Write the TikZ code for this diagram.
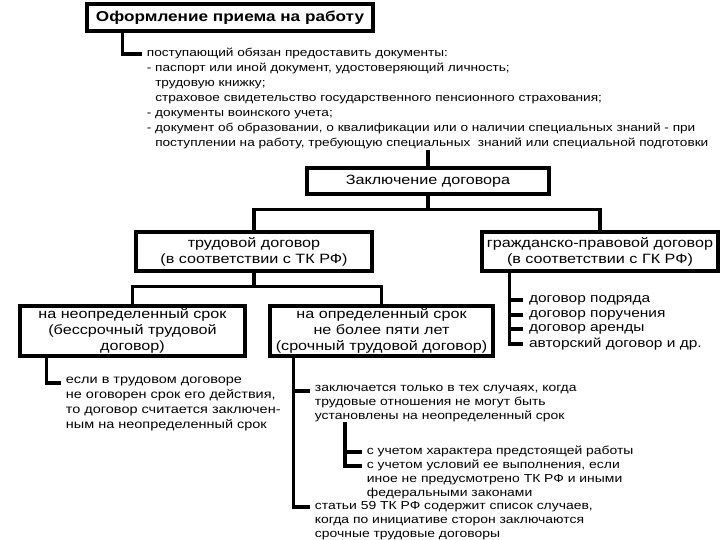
\documentclass[tikz,border=0pt]{standalone}
\usepackage{fontspec}
\setmainfont[FakeStretch=1.2]{Liberation Sans}
\usetikzlibrary{positioning,calc}

\begin{document}
\begin{tikzpicture}[x=0.03cm, y=-0.03cm,
    every node/.style={font=\fontsize{9.7}{12.8}\selectfont},
    box/.style={draw, line width=2.6pt, align=center, inner sep=0pt, font=\fontsize{11.5}{13.6}\selectfont},
    note/.style={anchor=north west, align=left, inner xsep=4pt, inner ysep=0pt},
    item/.style={anchor=west, inner xsep=5pt, inner ysep=0pt, font=\fontsize{11}{12.3}\selectfont},
    link/.style={line width=2.6pt}]
    \useasboundingbox (0,0) rectangle (720,540);

    % header and documents
    \node[box, minimum width=8.58cm, minimum height=0.81cm, font=\fontsize{12.2}{14}\selectfont\bfseries] (hire) at (230,17.5) {Оформление приема на работу};
    \node[note] (docs) at (142,48) {поступающий обязан предоставить документы:\\
        - паспорт или иной документ, удостоверяющий личность;\\
        \hphantom{- }трудовую книжку;\\
        \hphantom{- }страховое свидетельство государственного пенсионного страхования;\\
        - документы воинского учета;\\
        - документ об образовании, о квалификации или о наличии специальных знаний - при\\
        \hphantom{- }поступлении на работу, требующую специальных\ \ знаний или специальной подготовки};
    \draw[link] ($(hire.south west)+(37,0)$) |- ($(docs.north west)+(0,6)$);

    % contract
    \node[box, minimum width=7.26cm, minimum height=0.78cm] (conclude) at (428,181) {Заключение договора};
    \draw[link] (conclude.north) -- ++(0,-16);

    \node[box, minimum width=7.08cm, minimum height=1.17cm] (labour) at (254,251.5) {трудовой договор\\(в соответствии с ТК РФ)};
    \node[box, minimum width=7.08cm, minimum height=1.17cm] (civil) at (600,251.5) {гражданско-правовой договор\\(в соответствии с ГК РФ)};
    \draw[link] (conclude.south) -- ++(0,14) -| (labour.north);
    \draw[link] (conclude.south) -- ++(0,14) -| (civil.north);

    % labour contract terms
    \node[box, minimum width=6.75cm, minimum height=1.5cm] (indef) at (132.5,331) {на неопределенный срок\\(бессрочный трудовой\\договор)};
    \node[box, minimum width=6.69cm, minimum height=1.5cm] (fixed) at (381.5,331) {на определенный срок\\не более пяти лет\\(срочный трудовой договор)};
    \draw[link] (labour.south) -- ++(0,14) -| (indef.north);
    \draw[link] (labour.south) -- ++(0,14) -| (fixed.north);

    % civil contract kinds
    \node[item] (civ1) at (523,300) {договор подряда};
    \node[item] (civ2) at (523,315) {договор поручения};
    \node[item] (civ3) at (523,329) {договор аренды};
    \node[item] (civ4) at (523,344) {авторский договор и др.};
    \draw[link] ($(civil.south west)+(29,0)$) |- (civ4.west);
    \foreach \i in {1,2,3}
        \draw[link] (civ\i.west) -- ++(-12,0);

    % notes under the terms
    \node[note, font=\fontsize{10.3}{12.8}\selectfont] (indefnote) at (61,377) {если в трудовом договоре\\не оговорен срок его действия,\\то договор считается заключен-\\ным на неопределенный срок};
    \draw[link] ($(indef.south west)+(28,0)$) |- ($(indefnote.north west)+(0,6)$);

    \begin{scope}[every node/.style={font=\fontsize{9.9}{11.9}\selectfont}]
    \node[note] (fixnote) at (310,385) {заключается только в тех случаях, когда\\трудовые отношения не могут быть\\установлены на неопределенный срок};
    \node[note] (sub1) at (362,446) {с учетом характера предстоящей работы};
    \node[note] (sub2) at (362,460) {с учетом условий ее выполнения, если\\иное не предусмотрено ТК РФ и иными\\федеральными законами};
    \node[note] (art59) at (310,501) {статьи 59 ТК РФ содержит список случаев,\\когда по инициативе сторон заключаются\\срочные трудовые договоры};
    \end{scope}
    \draw[link] ($(fixed.south west)+(25,0)$) |- ($(art59.north west)+(0,6)$);
    \draw[link] ($(fixnote.north west)+(0,6)$) -- ++(-15,0);
    \draw[link] ($(fixnote.south west)+(35,0)$) |- ($(sub2.north west)+(0,6)$);
    \draw[link] ($(sub1.north west)+(0,6)$) -- ++(-17,0);
\end{tikzpicture}
\end{document}
